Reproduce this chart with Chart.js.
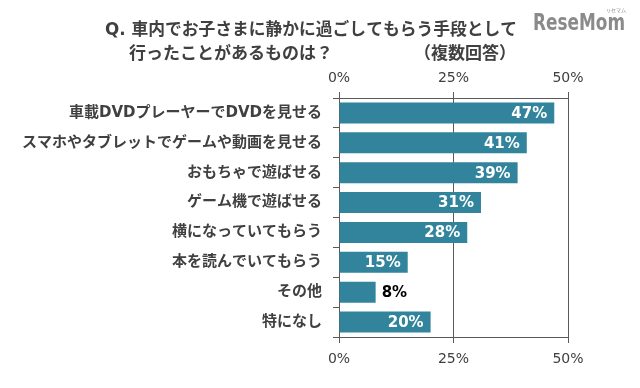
<!DOCTYPE html>
<html lang="ja">
<head>
  <meta charset="UTF-8">
  <title>車内でお子さまに静かに過ごしてもらう手段</title>
  <script src="https://cdn.jsdelivr.net/npm/chart.js"></script>
  <style>
    body { margin: 0; background: #fff; }
    #wrap { width: 640px; height: 388px; }
  </style>
</head>
<body>
  <div id="wrap"><canvas id="chart" width="640" height="388"></canvas></div>

  <script>
    const categories = [
      '車載DVDプレーヤーでDVDを見せる',
      'スマホやタブレットでゲームや動画を見せる',
      'おもちゃで遊ばせる',
      'ゲーム機で遊ばせる',
      '横になっていてもらう',
      '本を読んでいてもらう',
      'その他',
      '特になし'
    ];
    const values = [47, 41, 39, 31, 28, 15, 8, 20];
    const xMin = 0, xMax = 50, xStep = 25;
    const titleLine1 = 'Q. 車内でお子さまに静かに過ごしてもらう手段として';
    const titleLine2 = '行ったことがあるものは？';
    const titleNote = '（複数回答）';

    const textColor = '#404040';
    const lineColor = '#595959';
    const barColor = '#31849B';
    const jpFont = "'DejaVu Sans', 'Noto Sans CJK JP', sans-serif";
    const numFont = "'DejaVu Sans', sans-serif";

    // title + logo
    const headerPlugin = {
      id: 'header',
      afterDraw(chart) {
        const ctx = chart.ctx;
        ctx.save();
        ctx.fillStyle = textColor;
        ctx.font = 'bold 17px ' + jpFont;
        ctx.textBaseline = 'middle';
        ctx.textAlign = 'left';
        ctx.fillText(titleLine1, 105, 31, 412);
        ctx.fillText(titleLine2, 129, 55);
        ctx.textAlign = 'right';
        ctx.fillText(titleNote, 516, 55);

        ctx.fillStyle = '#8a8a8a';
        ctx.font = 'bold 23px ' + numFont;
        ctx.textAlign = 'left';
        ctx.fillText('ReseMom', 533, 24, 92);
        ctx.font = '5px ' + jpFont;
        ctx.fillText('リセマム', 606, 11);
        ctx.restore();
      }
    };

    // value labels on the bars
    const valueLabels = {
      id: 'valueLabels',
      afterDatasetsDraw(chart) {
        const ctx = chart.ctx;
        const meta = chart.getDatasetMeta(0);
        ctx.save();
        ctx.font = 'bold 15px ' + numFont;
        ctx.textBaseline = 'middle';
        meta.data.forEach((bar, i) => {
          const v = values[i];
          const label = v + '%';
          if (v >= 10) {
            ctx.fillStyle = '#ffffff';
            ctx.textAlign = 'right';
            ctx.fillText(label, bar.x - 7, bar.y + 1);
          } else {
            ctx.fillStyle = '#000000';
            ctx.textAlign = 'left';
            ctx.fillText(label, bar.x + 6, bar.y + 1);
          }
        });
        ctx.restore();
      }
    };

    const pct = v => v + '%';

    new Chart(document.getElementById('chart'), {
      type: 'bar',
      data: {
        labels: categories,
        datasets: [{
          data: values,
          backgroundColor: barColor,
          borderWidth: 0,
          barPercentage: 0.7,
          categoryPercentage: 1.0,
          xAxisID: 'x'
        }]
      },
      options: {
        indexAxis: 'y',
        responsive: false,
        animation: false,
        layout: { padding: { top: 0, left: 0, right: 72, bottom: 0 } },
        plugins: {
          legend: { display: false },
          tooltip: { enabled: false }
        },
        scales: {
          x: {
            position: 'bottom',
            min: xMin, max: xMax,
            afterFit: s => { s.height = 51; },
            ticks: {
              stepSize: xStep,
              callback: pct,
              color: textColor,
              padding: 8,
              font: { family: numFont, size: 14 }
            },
            grid: { color: lineColor, lineWidth: 1, tickLength: 6, drawOnChartArea: true },
            border: { color: lineColor, width: 1 }
          },
          x2: {
            position: 'top',
            min: xMin, max: xMax,
            afterFit: s => { s.height = 98; },
            ticks: {
              stepSize: xStep,
              callback: pct,
              color: textColor,
              padding: 5,
              font: { family: numFont, size: 14 }
            },
            grid: { color: lineColor, lineWidth: 1, tickLength: 6, drawOnChartArea: false },
            border: { color: lineColor, width: 1 }
          },
          y: {
            afterFit: s => { s.width = 339; },
            ticks: {
              color: textColor,
              padding: 11,
              font: { family: jpFont, size: 15, weight: 'bold' }
            },
            grid: { offset: true, drawOnChartArea: false, tickLength: 6, color: lineColor },
            border: { color: lineColor, width: 1 }
          }
        }
      },
      plugins: [headerPlugin, valueLabels]
    });
  </script>
</body>
</html>
